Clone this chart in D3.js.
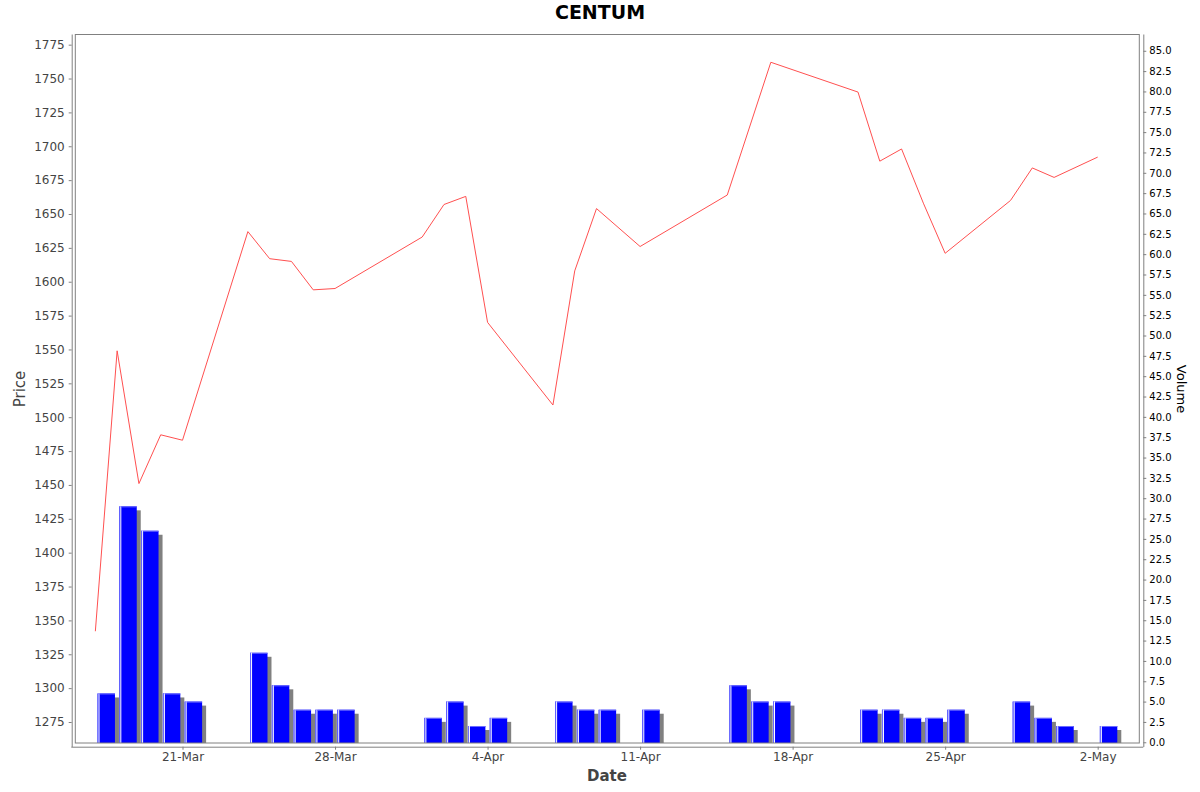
<!DOCTYPE html>
<html><head><meta charset="utf-8">
<script src="https://cdn.jsdelivr.net/npm/d3@7"></script>
<style>body{margin:0;background:#fff}svg{display:block;font-family:"DejaVu Sans",sans-serif}</style>
</head><body><svg id="c" width="1200" height="792"></svg>
<script>
const priceDates = ["2025-03-17","2025-03-18","2025-03-19","2025-03-20","2025-03-21","2025-03-24","2025-03-25","2025-03-26","2025-03-27","2025-03-28","2025-04-01","2025-04-02","2025-04-03","2025-04-04","2025-04-07","2025-04-08","2025-04-09","2025-04-11","2025-04-15","2025-04-17","2025-04-21","2025-04-22","2025-04-23","2025-04-24","2025-04-25","2025-04-28","2025-04-29","2025-04-30","2025-05-02"];
const priceValues = [1342,1549,1451,1487,1483,1637,1617,1615,1594,1595,1633,1657,1663,1570,1509,1608,1654,1626,1664,1762,1740,1689,1698,1658,1621,1660,1684,1677,1692];
const volumeDates = ["2025-03-17","2025-03-18","2025-03-19","2025-03-20","2025-03-21","2025-03-24","2025-03-25","2025-03-26","2025-03-27","2025-03-28","2025-04-01","2025-04-02","2025-04-03","2025-04-04","2025-04-07","2025-04-08","2025-04-09","2025-04-11","2025-04-15","2025-04-16","2025-04-17","2025-04-21","2025-04-22","2025-04-23","2025-04-24","2025-04-25","2025-04-28","2025-04-29","2025-04-30","2025-05-02"];
const volumeValues = [6,29,26,6,5,11,7,4,4,4,3,5,2,3,5,4,4,4,7,5,5,4,4,3,3,4,5,3,2,2];
const xTickLabels = ["21-Mar","28-Mar","4-Apr","11-Apr","18-Apr","25-Apr","2-May"];
const priceTicks = d3.range(1275, 1776, 25);
const volumeTicks = d3.range(0, 85.01, 2.5);

const svg = d3.select("#c");
const L = 75.3, R = 1139.3, T = 34.5, B = 743;
const parse = d3.utcParse("%Y-%m-%d");
const day = 864e5;
const ref = parse("2025-03-21").getTime();
const x = d3.scaleUtc().domain([new Date(ref - 4.92*day), new Date(ref + 43.91*day)]).range([L, R]);
const yP = d3.scaleLinear().domain([1259.5, 1782.5]).range([B, T]);
const yV = d3.scaleLinear().domain([-0.09, 87.0]).range([B, T]);

svg.append("rect").attr("x", L).attr("y", T).attr("width", R-L).attr("height", B-T).attr("fill","#fff");

// bars
const bars = svg.append("g");
volumeDates.forEach((ds, i) => {
  const d = parse(ds).getTime();
  const x0 = x(new Date(d + 0.1*day)), x1 = x(new Date(d + 0.9*day));
  const yt = yV(volumeValues[i]);
  bars.append("rect").attr("x", x0+4).attr("y", yt+4).attr("width", x1-x0).attr("height", Math.max(0, B-(yt+4))).attr("fill","#808080");
  bars.append("rect").attr("x", x0).attr("y", yt).attr("width", x1-x0).attr("height", B-yt).attr("fill","#0000ff");
  bars.append("rect").attr("x", x0).attr("y", yt).attr("width", 1).attr("height", B-yt).attr("fill","#6a6aff");
  bars.append("rect").attr("x", x0+1).attr("y", yt).attr("width", 1).attr("height", B-yt).attr("fill","#ffffff");
  bars.append("rect").attr("x", x0+2).attr("y", yt).attr("width", x1-x0-2).attr("height", 1).attr("fill","#6a6aff");
});

// price line
const line = d3.line().x((d,i)=>x(parse(priceDates[i]))).y(d=>yP(d));
svg.append("path").datum(priceValues).attr("d", line).attr("fill","none").attr("stroke","#ff5050").attr("stroke-width",1);

svg.append("rect").attr("x", L).attr("y", T).attr("width", R-L).attr("height", B-T).attr("fill","none").attr("stroke","#808080").attr("stroke-width",1);

// left axis
const gL = svg.append("g").attr("transform","translate(71.7,0)")
  .call(d3.axisLeft(yP).tickValues(priceTicks).tickFormat(d3.format("d")).tickSize(3).tickSizeOuter(0).tickPadding(4));
gL.select(".domain").attr("stroke","#808080").attr("d", `M0.5,${T}V${B+4}`);
gL.selectAll(".tick line").attr("stroke","#808080");
gL.selectAll(".tick text").attr("fill","#444").style("font-size","12px").style("font-family","DejaVu Sans");

// right axis
const gR = svg.append("g").attr("transform","translate(1143.3,0)")
  .call(d3.axisRight(yV).tickValues(volumeTicks).tickFormat(d3.format(".1f")).tickSize(3).tickSizeOuter(0).tickPadding(3));
gR.select(".domain").attr("stroke","#808080").attr("d", `M0.5,${T}V${B+4}`);
gR.selectAll(".tick line").attr("stroke","#808080");
gR.selectAll(".tick text").attr("fill","#000").style("font-size","10px").style("font-family","DejaVu Sans");

// bottom axis
const tickDates = xTickLabels.map((s,i)=>new Date(ref + i*7*day));
const gB = svg.append("g").attr("transform","translate(0,746.7)")
  .call(d3.axisBottom(x).tickValues(tickDates).tickFormat((d,i)=>xTickLabels[i]).tickSize(3).tickSizeOuter(0).tickPadding(3));
gB.select(".domain").attr("stroke","#808080").attr("d", `M${L-4},0.5H${R+4}`);
gB.selectAll(".tick line").attr("stroke","#808080");
gB.selectAll(".tick text").attr("fill","#444").style("font-size","12px").style("font-family","DejaVu Sans");

// titles
svg.append("text").attr("x", 600).attr("y", 19).attr("text-anchor","middle").style("font-size","19px").style("font-weight","bold").attr("fill","#000").text("CENTUM");
svg.append("text").attr("x", 607).attr("y", 781).attr("text-anchor","middle").style("font-size","15px").style("font-weight","bold").attr("fill","#444").text("Date");
svg.append("text").attr("transform","translate(25,389) rotate(-90)").attr("text-anchor","middle").style("font-size","15px").attr("fill","#444").text("Price");
svg.append("text").attr("transform","translate(1177,389) rotate(90)").attr("text-anchor","middle").style("font-size","13px").attr("fill","#000").text("Volume");
</script></body></html>
